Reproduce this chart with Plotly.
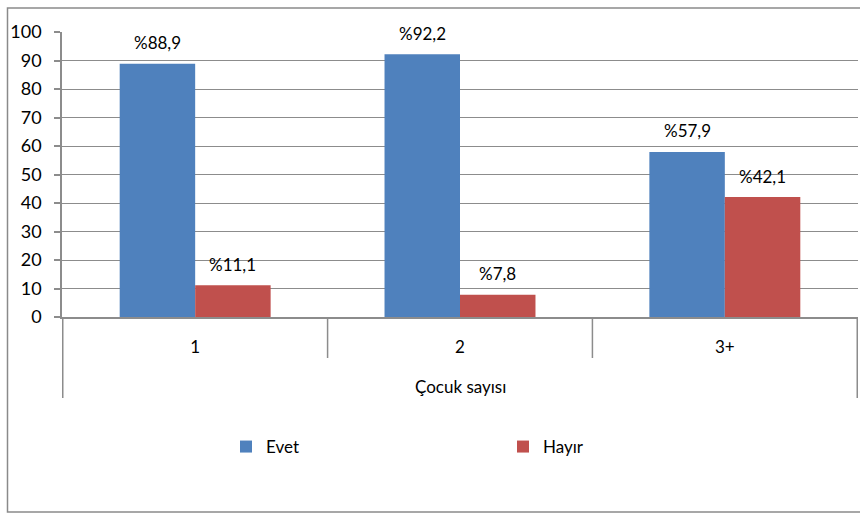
import plotly.graph_objects as go

# Çocuk sayısına göre Evet / Hayır yüzdeleri
categories = ["1", "2", "3+"]
evet = [88.9, 92.2, 57.9]
hayir = [11.1, 7.8, 42.1]
series_names = ["Evet", "Hayır"]
y_ticks = [0, 10, 20, 30, 40, 50, 60, 70, 80, 90, 100]
x_title = "Çocuk sayısı"

BLUE = "#4F81BD"
RED = "#C0504D"
GRID = "#8c8c8c"
FONT = "Lato"

W, H = 860, 514
ML, MR, MT, MB = 62, 2, 32, 197
plot_h = H - MT - MB
plot_w = W - ML - MR


def px_to_paper_y(py):
    return (H - MB - py) / plot_h


def px_to_paper_x(px):
    return (px - ML) / plot_w


fig = go.Figure()
fig.add_trace(go.Bar(x=categories, y=evet, name=series_names[0],
                     marker=dict(color=BLUE, line=dict(width=0))))
fig.add_trace(go.Bar(x=categories, y=hayir, name=series_names[1],
                     marker=dict(color=RED, line=dict(width=0))))

bargap = 0.43
bar_px = plot_w / len(categories) * (1 - bargap) / 2

# value labels above each bar (x given as category index)
for vals, shift in ((evet, -bar_px / 2), (hayir, bar_px / 2)):
    for i, v in enumerate(vals):
        fig.add_annotation(x=i, y=v, xref="x", yref="y",
                           text="%" + f"{v:.1f}".replace(".", ","),
                           showarrow=False, xshift=shift, yshift=21,
                           yanchor="middle",
                           font=dict(family=FONT, size=17, color="#000"))

shapes = []
# category separators below the axis
n = len(categories)
for i in range(n + 1):
    xpos = i - 0.5
    long = i in (0, n)
    shapes.append(dict(type="line", xref="x", yref="paper",
                       x0=xpos, x1=xpos, y0=0,
                       y1=px_to_paper_y(398 if long else 358),
                       line=dict(color=GRID, width=1.5)))
# outer chart frame
shapes.append(dict(type="rect", xref="paper", yref="paper",
                   x0=px_to_paper_x(7.5), x1=px_to_paper_x(862),
                   y0=px_to_paper_y(512), y1=px_to_paper_y(8),
                   line=dict(color="#8a8a8a", width=1.5),
                   fillcolor="rgba(0,0,0,0)", layer="below"))

fig.add_annotation(x=0.5, y=px_to_paper_y(387), xref="paper", yref="paper",
                   text=x_title, showarrow=False, yanchor="middle",
                   font=dict(family=FONT, size=17, color="#000"))

fig.update_layout(
    width=W, height=H,
    margin=dict(l=ML, r=MR, t=MT, b=MB, pad=0, autoexpand=False),
    paper_bgcolor="white", plot_bgcolor="white",
    barmode="group", bargap=bargap, bargroupgap=0,
    font=dict(family=FONT, size=16, color="#000"),
    shapes=shapes,
    showlegend=True,
    legend=dict(orientation="h", x=px_to_paper_x(226), xanchor="left",
                y=px_to_paper_y(447), yanchor="middle",
                entrywidth=232, entrywidthmode="pixels",
                itemwidth=30, traceorder="normal",
                font=dict(family=FONT, size=17, color="#000"),
                bgcolor="rgba(0,0,0,0)"),
)
fig.update_yaxes(range=[0, 100], tickvals=y_ticks, showgrid=True,
                 gridcolor=GRID, gridwidth=1.3, zeroline=False,
                 showline=True, linecolor=GRID, linewidth=1.5,
                 ticks="outside", ticklen=6, tickcolor=GRID, tickwidth=1.5,
                 ticklabelstandoff=9,
                 tickfont=dict(family=FONT, size=18, color="#000"),
                 fixedrange=True)
fig.update_xaxes(showgrid=False, showline=True, linecolor=GRID, linewidth=1.5,
                 ticks="", ticklabelstandoff=14,
                 tickfont=dict(family=FONT, size=17, color="#000"),
                 fixedrange=True)

fig.write_html("out.html", config={"displayModeBar": False})
